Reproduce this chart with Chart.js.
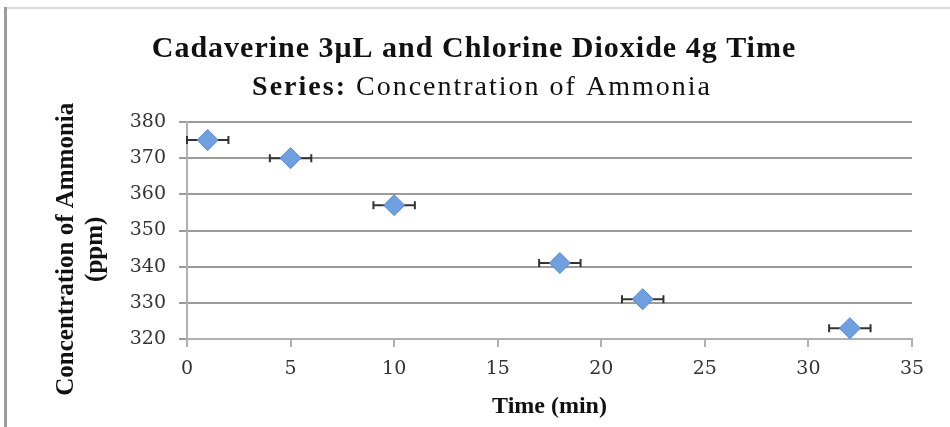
<!DOCTYPE html>
<html>
<head>
<meta charset="utf-8">
<script src="https://cdn.jsdelivr.net/npm/chart.js@4.4.0/dist/chart.umd.min.js"></script>
<style>
  html, body { margin: 0; padding: 0; background: #fff; }
  #wrap { width: 950px; height: 427px; position: relative; }
</style>
</head>
<body>
<div id="wrap"><canvas id="myChart"></canvas></div>
<script>
const timeMin = [1, 5, 10, 18, 22, 32];
const ammoniaPpm = [375, 370, 357, 341, 331, 323];
const timeError = [1, 1, 1, 1, 1, 1];

const titleText = "Cadaverine 3\u03bcL and Chlorine Dioxide 4g Time";
const subtitleBold = "Series:";
const subtitleText = " Concentration of Ammonia";
const xTitle = "Time (min)";
const yTitle = ["Concentration of Ammonia", "(ppm)"];

const serif = "'Liberation Serif', 'DejaVu Serif', serif";
const tickFont = "'DejaVu Serif', serif";
const markerColor = "#6f9fdf";
const errorColor = "#333333";
const gridColor = "#9a9a9a";

// frame + two-line heading (second line mixes bold and normal)
const headingPlugin = {
  id: "heading",
  beforeDraw(chart) {
    const ctx = chart.ctx;
    ctx.save();
    ctx.fillStyle = "#dcdcdc";
    ctx.fillRect(4, 7, 946, 2);
    ctx.fillStyle = "#9c9c9c";
    ctx.fillRect(4, 7, 3, 420);

    ctx.fillStyle = "#111";
    ctx.textBaseline = "middle";
    ctx.textAlign = "center";
    ctx.letterSpacing = "1px";
    ctx.font = "bold 30px " + serif;
    ctx.fillText(titleText, 474, 49);

    ctx.textAlign = "left";
    ctx.letterSpacing = "2px";
    ctx.font = "bold 28px " + serif;
    const wb = ctx.measureText(subtitleBold).width;
    ctx.font = "28px " + serif;
    const wn = ctx.measureText(subtitleText).width;
    let x = 482 - (wb + wn) / 2;
    ctx.font = "bold 28px " + serif;
    ctx.fillText(subtitleBold, x, 88);
    ctx.font = "28px " + serif;
    ctx.fillText(subtitleText, x + wb, 88);
    ctx.restore();
  }
};

// horizontal error bars with caps, drawn under the markers
const errorBarPlugin = {
  id: "errorBars",
  beforeDatasetsDraw(chart) {
    const ctx = chart.ctx;
    const xs = chart.scales.x;
    const ys = chart.scales.y;
    ctx.save();
    ctx.strokeStyle = errorColor;
    ctx.lineWidth = 2;
    for (let i = 0; i < timeMin.length; i++) {
      const x0 = xs.getPixelForValue(timeMin[i] - timeError[i]);
      const x1 = xs.getPixelForValue(timeMin[i] + timeError[i]);
      const y = ys.getPixelForValue(ammoniaPpm[i]);
      ctx.beginPath();
      ctx.moveTo(x0, y);
      ctx.lineTo(x1, y);
      ctx.moveTo(x0, y - 4);
      ctx.lineTo(x0, y + 4);
      ctx.moveTo(x1, y - 4);
      ctx.lineTo(x1, y + 4);
      ctx.stroke();
    }
    ctx.restore();
  }
};

const points = timeMin.map(function (t, i) {
  return { x: t, y: ammoniaPpm[i] };
});

var ctx = document.getElementById("myChart");

new Chart(ctx, {
  type: "scatter",
  data: {
    datasets: [
      {
        label: "Concentration of Ammonia",
        data: points,
        pointStyle: "rectRot",
        pointRadius: 10.5,
        pointHoverRadius: 10.5,
        backgroundColor: markerColor,
        borderColor: "#5a88c9",
        borderWidth: 1,
      },
    ],
  },
  options: {
    responsive: true,
    maintainAspectRatio: false,
    animation: false,
    layout: { padding: { top: 122, right: 38, left: 0, bottom: 0 } },
    plugins: {
      legend: { display: false },
      title: { display: false },
      tooltip: { enabled: false },
    },
    scales: {
      x: {
        type: "linear",
        min: 0,
        max: 35,
        afterFit: function (scale) { scale.height = 88; },
        ticks: {
          stepSize: 5,
          padding: 11,
          color: "#333",
          font: { family: tickFont, size: 19 },
        },
        grid: {
          drawOnChartArea: false,
          drawTicks: true,
          tickLength: 8,
          color: "#b0b0b0",
          lineWidth: 2,
        },
        border: { color: "#b0b0b0", width: 2 },
        title: {
          display: true,
          text: xTitle,
          color: "#111",
          padding: { top: 0, bottom: 6 },
          font: { family: serif, size: 24, weight: "bold" },
        },
      },
      y: {
        min: 320,
        max: 380,
        afterFit: function (scale) { scale.width = 187; },
        ticks: {
          stepSize: 10,
          padding: 13,
          color: "#333",
          font: { family: tickFont, size: 19 },
        },
        grid: {
          color: gridColor,
          lineWidth: 2,
          tickLength: 8,
        },
        border: { color: "#b0b0b0", width: 2 },
        title: {
          display: true,
          text: [yTitle[0] + "      ", yTitle[1] + "      "],
          color: "#111",
          padding: { top: 52, bottom: 0 },
          font: { family: serif, size: 25, weight: "bold", lineHeight: 1.16 },
        },
      },
    },
  },
  plugins: [headingPlugin, errorBarPlugin],
});
</script>
</body>
</html>
